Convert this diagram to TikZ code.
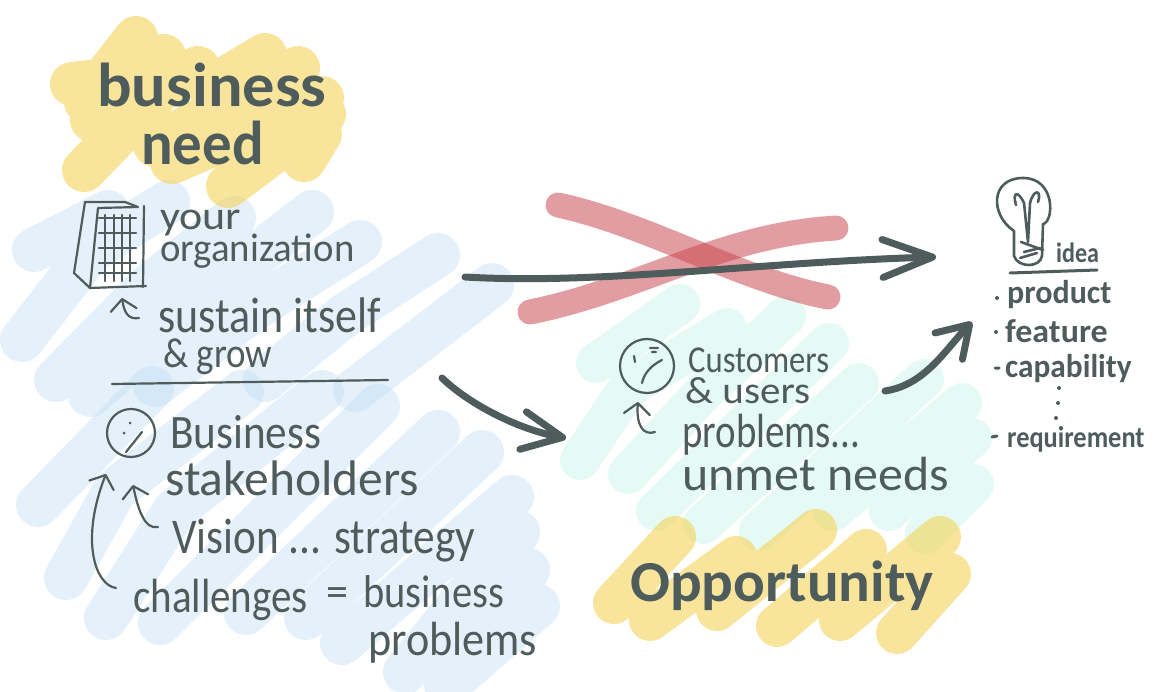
\documentclass[tikz,border=0pt]{standalone}
\usepackage{fontspec}
\setmainfont{Carlito}
\usetikzlibrary{arrows.meta,positioning}
\definecolor{ink}{HTML}{4F5C5C}
\definecolor{yellowpen}{HTML}{F5D25A}
\definecolor{bluepen}{HTML}{BBD9F3}
\definecolor{mintpen}{HTML}{C0F2E6}
\definecolor{redpen}{HTML}{C8444C}
\begin{document}
\begin{tikzpicture}[
    x=1pt, y=-1pt,
    marker/.style={line cap=round, line join=round, line width=#1},
    yellowmark/.style={marker=44pt, draw=yellowpen, opacity=0.6},
    bluemark/.style={marker=44pt, draw=bluepen, opacity=0.38},
    mintmark/.style={marker=40pt, draw=mintpen, opacity=0.42},
    redmark/.style={marker=25pt, draw=redpen, opacity=0.52},
    pen/.style={draw=ink, line width=2.2pt, line cap=round, line join=round},
    fatpen/.style={draw=ink, line width=7pt, line cap=round, line join=round},
    smallarrow/.style={pen, -{Straight Barb[round, length=11pt, width=26pt]}},
    bigarrow/.style={fatpen, -{Straight Barb[round, length=#1, width=38pt]}},
    hand/.style={font=\fontsize{#1}{#1}\selectfont, text=ink, anchor=base west, inner sep=0pt, transform shape},
    title/.style={font=\fontsize{#1}{#1}\selectfont\bfseries, text=ink, anchor=base west, inner sep=0pt, transform shape}
]
\useasboundingbox (0,0) rectangle (1174,692);

\draw[bluemark] (34,250)--(108,212) (22,340)--(92,250)--(168,202) (56,380)--(150,285)--(234,218) (90,395)--(205,295)--(312,212)
    (155,385)--(260,305)--(360,242) (265,380)--(345,315)--(438,255) (355,390)--(492,285);
\draw[bluemark] (38,505)--(152,388) (66,578)--(115,490)--(242,392) (106,618)--(175,510)--(322,392) (160,623)--(378,406)
    (246,613)--(438,432) (306,618)--(482,452) (342,643)--(512,497) (405,672)--(518,532) (455,672)--(528,570) (446,686)--(538,606);
\draw[mintmark] (596,363)--(680,304) (580,460)--(628,388)--(727,328) (628,474)--(703,393)--(786,316) (656,511)--(829,343)
    (703,524)--(859,383) (759,531)--(924,379) (833,511)--(962,403) (889,511)--(972,438) (925,534)--(974,484);
\draw[yellowmark] (72,84)--(90,82) (86,102)--(136,38) (92,120)--(164,56) (98,125)--(198,68) (210,88)--(265,55) (84,170)--(152,100)
    (155,145)--(298,68) (172,162)--(322,98) (228,186)--(324,114) (304,160)--(320,134);
\draw[yellowmark, marker=42pt] (614,603)--(675,537) (650,620)--(736,557) (717,610)--(816,530) (777,626)--(866,550)
    (840,620)--(940,537) (897,633)--(950,574);
\draw[redmark] (558,205) .. controls (650,225) and (740,280) .. (828,297);
\draw[redmark] (530,312) .. controls (640,290) and (720,235) .. (836,228);

\node[title=62, xscale=1.04] (business) at (97,107) {business};
\node[title=62, xscale=0.95] (need) at (141,165) {need};
\node[title=58, xscale=1.02] (opportunity) at (630,601) {Opportunity};

\node[hand=40, xscale=1.1] (your) at (160,230) {your};
\node[hand=40, xscale=0.97] (organization) at (160,262) {organization};
\node[hand=50, xscale=0.88] (sustain) at (158,332) {sustain itself};
\node[hand=42, xscale=0.88] (grow) at (163,367) {\& grow};
\node[hand=48, xscale=0.9] (stakeholder1) at (170,448) {Business};
\node[hand=50, xscale=0.99] (stakeholder2) at (165,495) {stakeholders};
\node[hand=50, xscale=0.865] (vision) at (172,553) {Vision ... strategy};
\node[hand=48, xscale=0.855] (challenges) at (133,612) {challenges};
\node[hand=44, xscale=1] (equals) at (326,606) {=};
\node[hand=46, xscale=0.88] (bizproblem1) at (363,607) {business};
\node[hand=48, xscale=0.92] (bizproblem2) at (368,655) {problems};

\node[hand=38, xscale=0.86] (customers) at (688,372) {Customers};
\node[hand=38, xscale=1.08] (users) at (685,403) {\& users};
\node[hand=48, xscale=0.81] (problems) at (682,447) {problems...};
\node[hand=48, xscale=1.04] (unmet) at (682,490) {unmet needs};

\node[title=28, xscale=0.86] (idea) at (1056,263) {idea};
\node[title=33, xscale=0.97] (product) at (1007,303) {product};
\node[title=33, xscale=1.03] (feature) at (1005,342) {feature};
\node[title=33, xscale=0.95] (capability) at (1005,377) {capability};
\node[title=30, xscale=0.88] (requirement) at (1007,447) {requirement};

\coordinate (needstart) at (465,277);
\coordinate (ideatip) at (936,257);
\coordinate (splitstart) at (442,378);
\coordinate (opptip) at (566,438);
\coordinate (oppstart) at (885,391);
\coordinate (listtip) at (972,322);
\draw[bigarrow=50pt] (needstart) .. controls (600,285) and (760,262) .. (ideatip);
\draw[bigarrow=40pt] (splitstart) .. controls (470,405) and (520,430) .. (opptip);
\draw[bigarrow=30pt] (oppstart) .. controls (925,385) and (945,350) .. (listtip);

% building
\draw[pen] (85,202)--(125,202)--(138,207)--(98,208)--(90,288)--(146,286);
\draw[pen] (85,202)--(74,273)--(90,288) (144,206)--(143,287);
\foreach \gx in {105,114,122,130} \draw[pen] (\gx,215)--(\gx,281);
\foreach \gy in {218,233,248,263,273} \draw[pen] (99,\gy)--(136,\gy);
\draw[smallarrow] (139,318) .. controls (128,320) and (124,312) .. (122,298);

\draw[pen] (112,384) -- (250,382) -- (388,380);

% faces
\draw[pen] (131,433) circle [radius=24pt];
\fill[ink] (130,423) circle [radius=1.5pt] (124,433) circle [radius=1.5pt];
\draw[pen] (142,432) -- (126,452);
\draw[pen] (647,366) circle [radius=27pt];
\draw[pen] (634,356)--(635,362) (650,348)--(658,348) (652,352)--(656,352);
\draw[pen] (662,360) .. controls (650,366) and (644,374) .. (642,383);

\draw[smallarrow] (158,527) .. controls (145,530) and (138,510) .. (133,485);
\draw[smallarrow] (116,588) .. controls (95,585) and (80,540) .. (106,474);
\draw[smallarrow] (655,432) .. controls (643,436) and (636,425) .. (638,402);

% bulb
\draw[pen, line width=2.6pt] (1014,231) .. controls (990,215) and (990,178) .. (1023,178) .. controls (1056,178) and (1054,222) .. (1043,224) -- (1042,256) .. controls (1040,268) and (1018,268) .. (1014,256) -- (1014,231);
\draw[pen, line width=2.6pt] (1028,242) -- (1024,203) .. controls (1018,190) and (1012,192) .. (1016,205) (1028,242) -- (1030,203) .. controls (1034,188) and (1042,190) .. (1038,202);
\draw[pen, line width=2.6pt] (1021,242)--(1043,250) (1024,252)--(1040,248) (1020,258)--(1037,253);
\draw[fatpen, line width=3pt] (1010,273) -- (1097,270);

\fill[ink] (997,298) circle [radius=2pt] (996,332) circle [radius=2pt];
\draw[fatpen, line width=3pt] (995,368)--(999,368) (992,437)--(997,436);
\fill[ink] (1059,388) circle [radius=2pt] (1058,403) circle [radius=2pt] (1056,418) circle [radius=2pt];
\end{tikzpicture}
\end{document}
